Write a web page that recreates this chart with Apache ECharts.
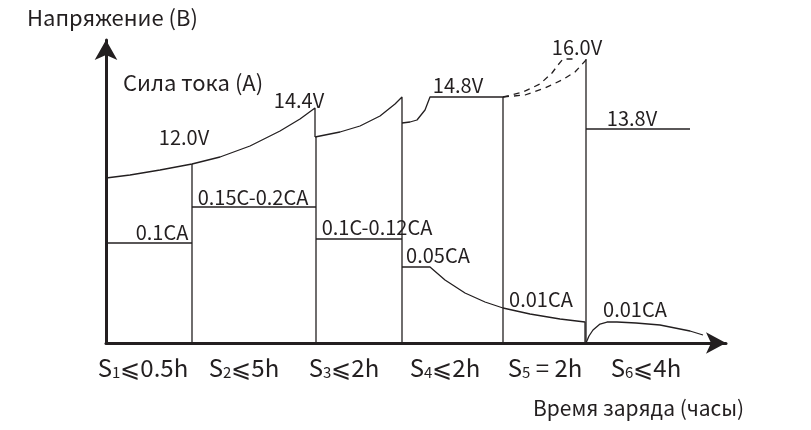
<!DOCTYPE html>
<html>
<head>
<meta charset="utf-8">
<script src="https://cdn.jsdelivr.net/npm/echarts@6/dist/echarts.min.js"></script>
<style>
html,body{margin:0;padding:0;background:#fff;}
#c{width:811px;height:430px;}
</style>
</head>
<body>
<div id="c"></div>
<script>
// ---- data (schematic units: x = time position, y = level) ----
var voltageS1S2 = [[0,165],[24,168],[54,173],[86,179],[114,186],[144,197],[174,212],[194,224],[209,235],[209,206]];
var voltageS3 = [[209,206],[234,211],[254,217],[274,227],[289,239],[296,246],[296,220]];
var voltageS4 = [[296,220],[304,221],[311,223],[319,233],[324,246],[397,246]];
var voltageBoostUpper = [[397,246],[417,251],[434,259],[446,270],[452,278],[457,284],[469,284]];
var voltageBoostLower = [[397,246],[419,248],[439,255],[456,263],[469,271],[480,283]];
var voltageS6 = [[480,214],[584,214]];
var currentS1 = [[0,100],[86,100]];
var currentS2 = [[86,136],[210,136]];
var currentS3 = [[210,104],[296,104]];
var currentS4S5 = [[296,76],[324,76],[339,63],[359,50],[379,41],[397,35],[424,29],[454,24],[479,21],[479,0]];
var currentS6 = [[480,0],[483,7],[487,13],[494,19],[501,21],[511,21],[530,20],[554,18],[584,12],[597,8]];
var stageBoundaries = [[86,179],[210,206],[296,220],[397,246],[480,284]];

var stageNames = [['S','1','⩽0.5h'],['S','2','⩽5h'],['S','3','⩽2h'],['S','4','⩽2h'],['S','5',' = 2h'],['S','6','⩽4h']];
var annotations = ['12.0V','14.4V','0.15C-0.2CA','0.1CA','0.1C-0.12CA','0.05CA','14.8V','16.0V','13.8V','0.01CA','0.01CA'];
var yName = 'Напряжение (В)';
var currentName = 'Сила тока (А)';
var xName = 'Время заряда (часы)';

// ---- layout ----
var FONT = '"Noto Sans CJK SC","Noto Sans",sans-serif';
var INK = '#231f20';
var annPos = [[184,137],[299,100],[253,197],[162,232],[377,227],[438,255],[458,85],[577,47],[632,118],[541,299],[635,309]];
var stageX = [143,244,344,445,545,646];

function line(data, dashed){
  return {type:'line', data:data, symbol:'none', silent:true, animation:false,
    lineStyle:{color:INK, width:1.3, type: dashed ? [6,5] : 'solid'}};
}
var series = [
  line(voltageS1S2), line(voltageS3), line(voltageS4),
  line(voltageBoostUpper, true), line(voltageBoostLower, true), line(voltageS6),
  line(currentS1), line(currentS2), line(currentS3), line(currentS4S5), line(currentS6)
];
stageBoundaries.forEach(function(p){ series.push(line([[p[0],0],p])); });

var graphics = [];
function txt(t, x, y, size, align){
  graphics.push({type:'text', x:x, y:y, silent:true, style:{text:t, fontSize:size, fontFamily:FONT, fill:INK,
    align:align||'center', textAlign:align||'center', verticalAlign:'middle', textVerticalAlign:'middle'}});
}
annotations.forEach(function(a,i){ txt(a, annPos[i][0], annPos[i][1], 20); });
txt(yName, 27, 18, 22, 'left');
txt(currentName, 123, 83, 22, 'left');
txt(xName, 533, 408, 21, 'left');
stageNames.forEach(function(s,i){
  graphics.push({type:'text', x:stageX[i], y:365, silent:true, style:{
    text:'{a|'+s[0]+'}{b|'+s[1]+'}{a|'+s[2]+'}', fill:INK, align:'center', textAlign:'center',
    verticalAlign:'middle', textVerticalAlign:'middle',
    rich:{a:{fontSize:24, fontFamily:FONT, fill:INK, color:INK, verticalAlign:'bottom', lineHeight:30},
          b:{fontSize:15, fontFamily:FONT, fill:INK, color:INK, verticalAlign:'bottom', lineHeight:28}}}});
});

var chart = echarts.init(document.getElementById('c'), null, {renderer:'canvas'});
chart.setOption({
  animation:false,
  backgroundColor:'#fff',
  grid:{left:106, top:40, width:620, height:303, containLabel:false},
  xAxis:{type:'value', min:0, max:620, splitLine:{show:false}, axisTick:{show:false}, axisLabel:{show:false},
    axisLine:{show:true, onZero:false, symbol:['none','arrow'], symbolSize:[16,20], lineStyle:{color:INK, width:3}}},
  yAxis:{type:'value', min:0, max:303, splitLine:{show:false}, axisTick:{show:false}, axisLabel:{show:false},
    axisLine:{show:true, onZero:false, symbol:['none','arrow'], symbolSize:[17,20], lineStyle:{color:INK, width:3}}},
  series:series,
  graphic:graphics
});
</script>
</body>
</html>
